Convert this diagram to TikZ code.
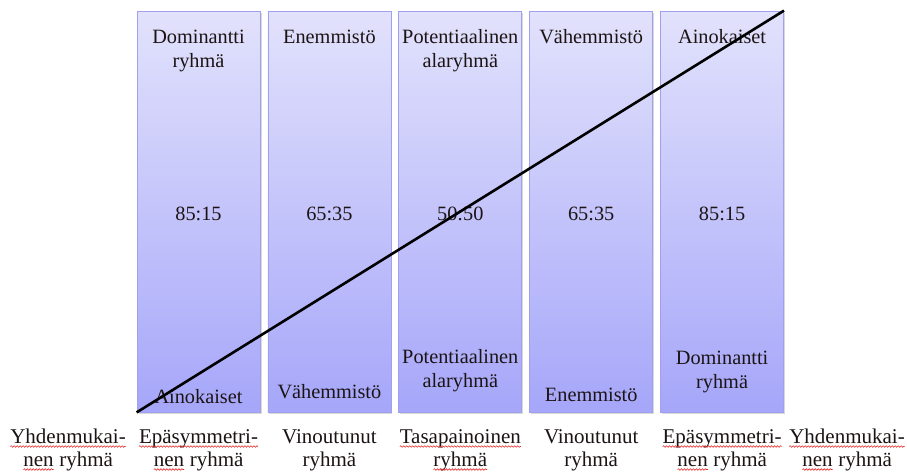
\documentclass[tikz,border=0pt]{standalone}
\usepackage{fontspec}
\setmainfont{Liberation Serif}
\usetikzlibrary{shadows,decorations.pathmorphing}
\definecolor{boxtop}{RGB}{226,226,252}
\definecolor{boxbot}{RGB}{166,166,250}
\definecolor{boxline}{RGB}{160,160,238}
\definecolor{inktext}{RGB}{28,20,20}
\definecolor{wavered}{RGB}{230,40,40}
\newcommand\spellwave[1]{\tikz[baseline=(swv.base)]{\node[inner sep=0pt, outer sep=0pt] (swv) {#1};
  \draw[wavered, line width=0.6pt, decorate, decoration={snake, amplitude=0.8pt, segment length=3pt}]
    ([yshift=-3.5pt]swv.base west) -- ([yshift=-3.5pt]swv.base east);}}
\begin{document}
\begin{tikzpicture}[x=1pt,y=-1pt,
  colbox/.style={draw=boxline, line width=0.8pt, top color=boxtop, bottom color=boxbot,
    minimum width=123pt, minimum height=401pt, inner sep=0pt,
    drop shadow={opacity=0.3, shadow xshift=1.5pt, shadow yshift=-1.5pt}},
  txt/.style={font=\fontsize{20.3}{24}\selectfont, text=inktext, align=center, inner sep=0pt, anchor=base},
  lbl/.style={font=\fontsize{21}{23}\selectfont, text=inktext, align=center, inner sep=0pt, anchor=base},
  diag/.style={line width=2.6pt, black}]
\useasboundingbox (0,0) rectangle (907,472);
\fill[white] (0,0) rectangle (907,472);
% columns
\node[colbox] (c1) at (198.5,211.5) {};
\node[colbox] (c2) at (329.4,211.5) {};
\node[colbox] (c3) at (460.3,211.5) {};
\node[colbox] (c4) at (591.2,211.5) {};
\node[colbox] (c5) at (722.1,211.5) {};
% top texts (base anchor = baseline of last line)
\node[txt] (t1) at (198.5,67) {Dominantti\\ryhmä};
\node[txt] (t2) at (329.4,43) {Enemmistö};
\node[txt] (t3) at (460.3,67) {Potentiaalinen\\alaryhmä};
\node[txt] (t4) at (591.2,43) {Vähemmistö};
\node[txt] (t5) at (722.1,43) {Ainokaiset};
% ratios
\node[txt] (m1) at (198.5,220) {85:15};
\node[txt] (m2) at (329.4,220) {65:35};
\node[txt] (m3) at (460.3,220) {50:50};
\node[txt] (m4) at (591.2,220) {65:35};
\node[txt] (m5) at (722.1,220) {85:15};
% bottom texts in boxes
\node[txt] (b1) at (198.5,403) {Ainokaiset};
\node[txt] (b2) at (329.4,398) {Vähemmistö};
\node[txt] (b3) at (460.3,387) {Potentiaalinen\\alaryhmä};
\node[txt] (b4) at (591.2,401) {Enemmistö};
\node[txt] (b5) at (722.1,388) {Dominantti\\ryhmä};
% diagonal
\draw[diag] (c1.south west) -- (c5.north east);
% labels below
\node[lbl] (l0) at (68,466) {\spellwave{Yhdenmukai-}\\\spellwave{nen} ryhmä};
\node[lbl] (l1) at (198.5,466) {\spellwave{Epäsymmetri-}\\\spellwave{nen} ryhmä};
\node[lbl] (l2) at (329.4,466) {Vinoutunut\\ryhmä};
\node[lbl] (l3) at (460.3,466) {\spellwave{Tasapainoinen}\\\spellwave{ryhmä}};
\node[lbl] (l4) at (591.2,466) {Vinoutunut\\ryhmä};
\node[lbl] (l5) at (722.1,466) {\spellwave{Epäsymmetri-}\\\spellwave{nen} ryhmä};
\node[lbl] (l6) at (847,466) {\spellwave{Yhdenmukai-}\\\spellwave{nen} ryhmä};
\end{tikzpicture}
\end{document}
